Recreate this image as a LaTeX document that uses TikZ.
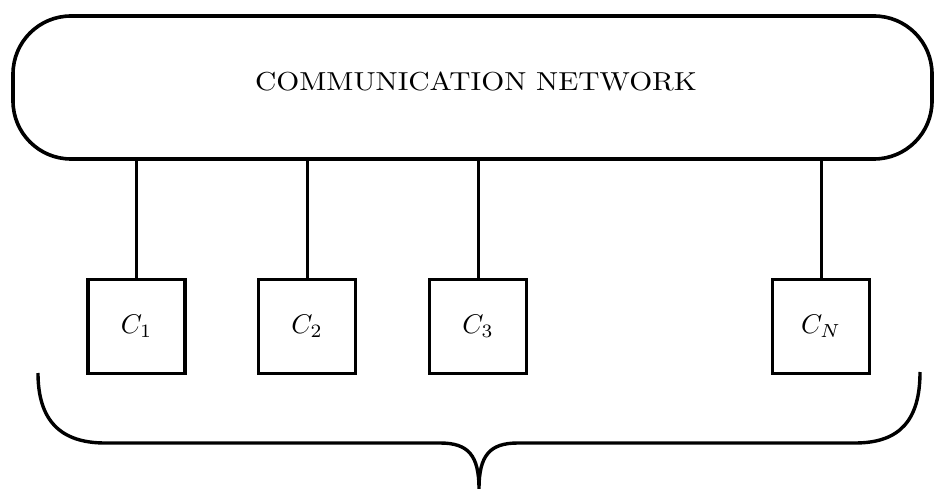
\documentclass[tikz,border=0pt]{standalone}
\usepackage{graphicx}
\begin{document}
\begin{tikzpicture}[x=1pt,y=-1pt,
  netbox/.style={draw, line width=3.6pt, rounded corners=58pt, minimum width=919pt, minimum height=143pt, inner sep=0pt},
  cbox/.style={draw, line width=3.2pt, minimum width=97pt, minimum height=94pt, inner sep=0pt},
  link/.style={line width=3pt},
  bracestyle/.style={line width=3.4pt}]
\useasboundingbox (0,0) rectangle (935,489);
\node[netbox] (net) at (472.5,87.5) {};
\node (lbl) at (476,81) {\scalebox{2.95}[2.6]{COMMUNICATION NETWORK}};
\node[cbox] (c1) at (136.5,326.5) {\scalebox{2.7}{$C_1$}};
\node[cbox] (c2) at (307,326.5) {\scalebox{2.7}{$C_2$}};
\node[cbox] (c3) at (478,326.5) {\scalebox{2.7}{$C_3$}};
\node[cbox] (cn) at (821,326.5) {\scalebox{2.7}{$C_N$}};
\foreach \c in {c1,c2,c3,cn} \draw[link] (net.south -| \c.north) -- (\c.north);
\coordinate (bl) at (38,373);
\coordinate (br) at (920,372);
\coordinate (tip) at (479,489);
\draw[bracestyle] (bl) .. controls (38,420) and (60,443) .. (105,443) -- (440,443)
  .. controls (468,443) and (479,455) .. (tip)
  (tip) .. controls (479,455) and (490,443) .. (518,443) -- (855,443)
  .. controls (900,443) and (920,420) .. (br);
\end{tikzpicture}
\end{document}
